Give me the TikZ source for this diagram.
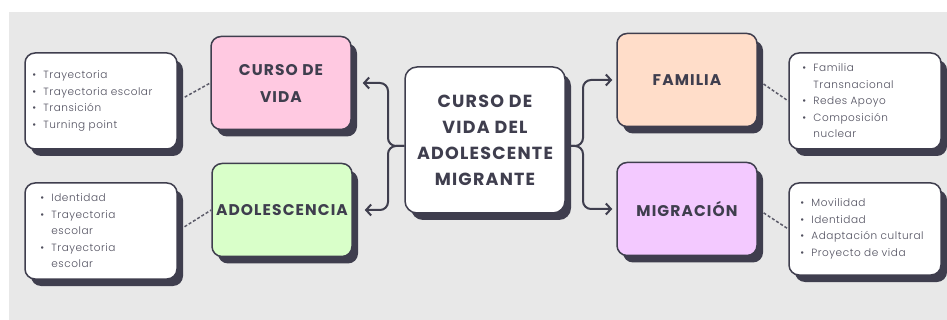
\documentclass[tikz,border=0pt]{standalone}
\usepackage{fontspec}
\setmainfont{Poppins}
\newfontfamily\headfont{Poppins}[LetterSpace=7]
\newfontfamily\listfont{Poppins Light}[LetterSpace=5]
\usetikzlibrary{arrows.meta,shadows,positioning}

\definecolor{ink}{HTML}{3F3E4E}
\definecolor{canvas}{HTML}{E8E8E8}
\definecolor{pinkbox}{HTML}{FFC9E1}
\definecolor{greenbox}{HTML}{D9FFC9}
\definecolor{peachbox}{HTML}{FFDDC9}
\definecolor{lilacbox}{HTML}{F3C9FF}

\newcommand{\bul}{\makebox[11pt][l]{\textbullet}}
\newcommand{\cnt}{\makebox[11pt][l]{}}

\begin{document}
\begin{tikzpicture}
  [x=1pt, y=-1pt,
   card/.style={draw=ink, line width=1.5pt, rounded corners=10pt,
     drop shadow={shadow xshift=6pt, shadow yshift=-7pt, fill=ink, opacity=1}},
   topic/.style={card, minimum width=140pt, minimum height=93pt,
     text=ink, align=center, font=\headfont\fontsize{15.5}{27}\selectfont\bfseries},
   listbox/.style={card, fill=white, minimum width=152pt, minimum height=96pt},
   listtext/.style={text=ink!90, align=left, inner sep=0pt,
     font=\listfont\fontsize{10.5}{16.5}\selectfont},
   conn/.style={draw=ink, line width=2pt, rounded corners=8pt,
     -{Straight Barb[length=5pt,width=11pt]}},
   link/.style={draw=ink!85, line width=1.5pt, dash pattern=on 3pt off 2pt},
  ]

  \useasboundingbox (0,0) rectangle (947,320);
  \fill[canvas] (9,12) rectangle (947,320);

  % centre
  \node[card, fill=white, minimum width=160pt, minimum height=146pt,
    rounded corners=12pt, text=ink, align=center,
    font=\headfont\fontsize{17.5}{26}\selectfont\bfseries] (centre) at (485,140)
    {CURSO DE\\VIDA DEL\\ADOLESCENTE\\MIGRANTE};

  % topics
  \node[topic, fill=pinkbox] (curso) at (281,83) {CURSO DE\\VIDA};
  \node[topic, fill=greenbox] (adol) at (282,210) {ADOLESCENCIA};
  \node[topic, fill=peachbox] (familia) at (687,80) {FAMILIA};
  \node[topic, fill=lilacbox] (migra) at (687,209) {MIGRACIÓN};

  % lists
  \node[listbox] (cursolist) at (101,101) {};
  \node[listbox] (adollist) at (101,231) {};
  \node[listbox] (familialist) at (865,101) {};
  \node[listbox, minimum height=92pt] (migralist) at (865,229) {};

  \node[listtext, right=8pt of cursolist.west] {\bul Trayectoria\\
    \bul Trayectoria escolar\\ \bul Transición\\ \bul Turning point};
  \node[listtext, right=16pt of adollist.west] {\bul Identidad\\
    \bul Trayectoria\\ \cnt escolar\\ \bul Trayectoria\\ \cnt escolar};
  \node[listtext, right=14pt of familialist.west] {\bul Familia\\
    \cnt Transnacional\\ \bul Redes Apoyo\\ \bul Composición\\ \cnt nuclear};
  \node[listtext, right=12pt of migralist.west] {\bul Movilidad\\
    \bul Identidad\\ \bul Adaptación cultural\\ \bul Proyecto de vida};

  % connectors
  \coordinate (lj) at (388,146);
  \coordinate (rj) at (583,146);
  \draw[conn, shorten >=11pt] (centre.west |- lj) -| (lj |- curso.east) -- (curso.east);
  \draw[conn, shorten >=12pt] (centre.west |- lj) -| (lj |- adol.east) -- (adol.east);
  \draw[conn, shorten >=4pt] (centre.east |- rj) -| (rj |- familia.west) -- (familia.west);
  \draw[conn, shorten >=4pt] (centre.east |- rj) -| (rj |- migra.west) -- (migra.west);

  % dashed links
  \draw[link, shorten <=8pt] (cursolist.east) -- (curso.west);
  \draw[link, shorten <=8pt] (adollist.east) -- (adol.west);
  \draw[link, shorten <=7pt] (familia.east) -- (familialist.west);
  \draw[link, shorten <=7pt] (migra.east) -- (migralist.west);

\end{tikzpicture}
\end{document}
